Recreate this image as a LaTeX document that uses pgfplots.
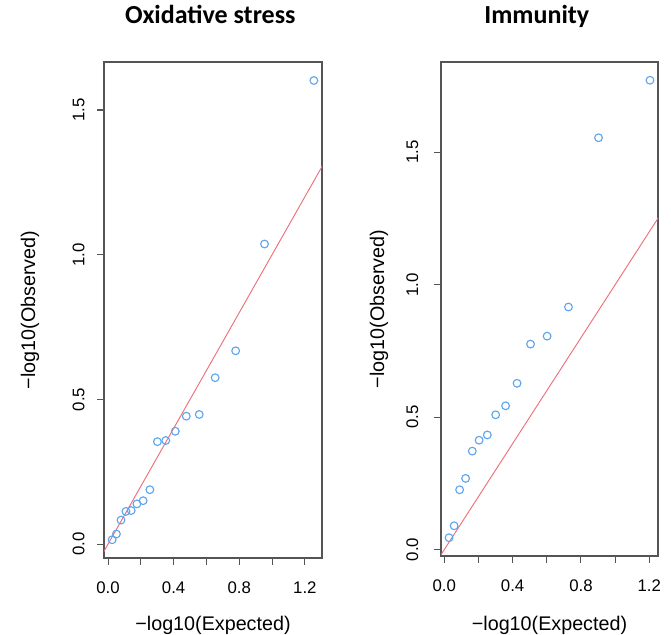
\documentclass[border=0pt]{standalone}
\usepackage{fontspec}
\setmainfont{Liberation Sans}
\newfontfamily\titlefont{Carlito}
\usepackage{pgfplots}
\pgfplotsset{compat=1.18}

\definecolor{ptblue}{RGB}{95,165,238}
\definecolor{refred}{RGB}{236,112,122}
\definecolor{boxgray}{RGB}{85,85,85}

\pgfplotsset{
  qqpanel/.style={
    scale only axis,
    anchor=south west,
    axis line style={draw=boxgray, line width=0.8pt},
    every tick/.style={draw=boxgray, line width=0.8pt},
    tick align=outside,
    major tick length=5pt,
    xtick pos=bottom, ytick pos=left,
    xtick={0,0.2,0.4,0.6,0.8,1.0,1.2},
    xticklabels={0.0,,0.4,,0.8,,1.2},
    ytick={0,0.5,1.0,1.5},
    yticklabels={0.0,0.5,1.0,1.5},
    tick label style={font=\fontsize{12.6}{14}\selectfont},
    xticklabel style={yshift=-9.6pt},
    label style={font=\fontsize{14.8}{17}\selectfont},
    title style={font=\titlefont\bfseries\fontsize{19.5}{22}\selectfont,
                 at={(0.5,1)}, anchor=base},
    xlabel={−log10(Expected)},
    ylabel={−log10(Observed)},
  },
  qqpts/.style={only marks, mark=o, mark size=2.9pt,
    mark options={draw=ptblue, line width=0.85pt}},
  qqline/.style={no markers, draw=refred, line width=0.7pt},
}

\begin{document}
\begin{tikzpicture}
  \useasboundingbox (0,0) rectangle (503.25pt,476.25pt);
  % left panel
  \begin{axis}[qqpanel,
    at={(78pt,57.75pt)},
    width=163.5pt, height=372pt,
    xmin=-0.0247, xmax=1.3045,
    ymin=-0.048, ymax=1.666,
    title={Oxidative stress},
    title style={yshift=22.5pt, xshift=-2pt},
    yticklabel style={rotate=90, anchor=south, yshift=6pt},
    xlabel style={at={(axis description cs:0.5,0)}, anchor=base, yshift=-54.75pt},
    ylabel style={at={(axis description cs:0,0.5)}, anchor=center, yshift=55.5pt},
  ]
    \addplot[qqline] coordinates {(-0.2,-0.2) (1.5,1.5)};
    \addplot[qqpts] coordinates {
      (0.025,0.015) (0.051,0.035) (0.079,0.083) (0.109,0.113) (0.141,0.116)
      (0.176,0.139) (0.214,0.150) (0.255,0.188) (0.301,0.354) (0.352,0.358)
      (0.410,0.390) (0.477,0.442) (0.556,0.448) (0.653,0.575) (0.778,0.668)
      (0.954,1.037) (1.255,1.602)
    };
  \end{axis}
  % right panel
  \begin{axis}[qqpanel,
    at={(330.75pt,59.25pt)},
    width=162.75pt, height=370.5pt,
    xmin=-0.019, xmax=1.251,
    ymin=-0.024, ymax=1.841,
    title={Immunity},
    title style={yshift=22.5pt, xshift=-9.5pt},
    yticklabel style={rotate=90, anchor=south, yshift=8.5pt},
    xlabel style={at={(axis description cs:0.5,0)}, anchor=base, yshift=-56.25pt},
    ylabel style={at={(axis description cs:0,0.5)}, anchor=center, yshift=46.5pt},
  ]
    \addplot[qqline] coordinates {(-0.2,-0.2) (1.5,1.5)};
    \addplot[qqpts] coordinates {
      (0.028,0.045) (0.058,0.090) (0.090,0.226) (0.125,0.269) (0.164,0.372)
      (0.204,0.413) (0.252,0.433) (0.301,0.509) (0.359,0.543) (0.426,0.628)
      (0.505,0.776) (0.602,0.806) (0.727,0.916) (0.903,1.555) (1.204,1.772)
    };
  \end{axis}
\end{tikzpicture}
\end{document}
